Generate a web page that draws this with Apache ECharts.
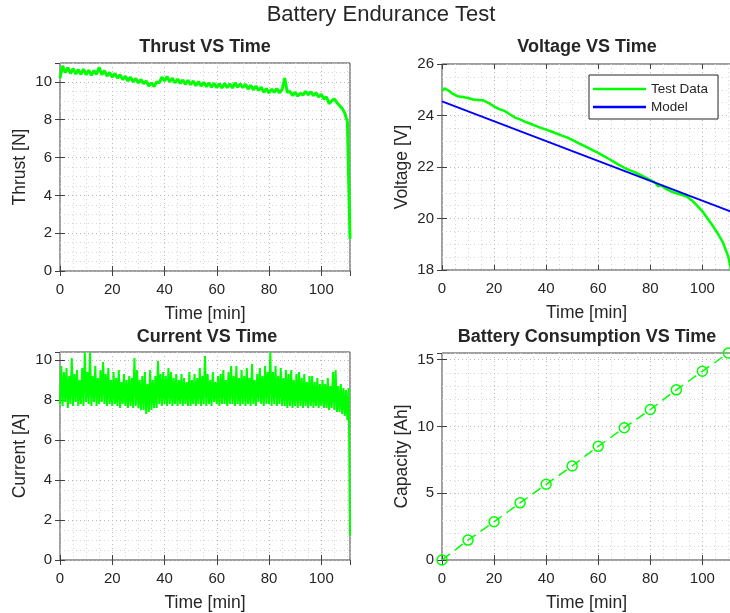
<!DOCTYPE html>
<html>
<head>
<meta charset="utf-8">
<title>Battery Endurance Test</title>
<script src="https://cdn.jsdelivr.net/npm/echarts@6/dist/echarts.min.js"></script>
<style>
  html, body { margin: 0; padding: 0; background: #fff; }
  #main { width: 730px; height: 613px; }
</style>
</head>
<body>
<div id="main"></div>
<script>
// thrust [N], one sample per minute
const thrustStep = 1;
const thrustValues = [
  10.2, 10.85, 10.5, 10.75, 10.45, 10.7, 10.42, 10.65, 10.4, 10.68,
  10.38, 10.62, 10.35, 10.6, 10.4, 10.78, 10.38, 10.6, 10.3, 10.5,
  10.25, 10.45, 10.2, 10.38, 10.12, 10.3, 10.05, 10.25, 10.0, 10.18,
  9.95, 10.12, 9.9, 10.05, 9.78, 9.95, 9.75, 10.0, 9.95, 10.25,
  10.05, 10.28, 10.0, 10.2, 9.95, 10.15, 9.92, 10.1, 9.88, 10.08,
  9.85, 10.05, 9.8, 10.02, 9.78, 9.98, 9.75, 9.95, 9.72, 9.92,
  9.7, 9.9, 9.68, 9.92, 9.7, 9.9, 9.68, 9.95, 9.72, 9.9,
  9.7, 9.88, 9.62, 9.82, 9.58, 9.78, 9.55, 9.72, 9.45, 9.65,
  9.42, 9.62, 9.45, 9.65, 9.42, 9.6, 10.2, 9.45, 9.5, 9.28,
  9.45, 9.25, 9.4, 9.3, 9.5, 9.32, 9.48, 9.28, 9.42, 9.2,
  9.35, 9.1, 9.2, 8.85, 9.0, 9.1, 8.9, 8.75, 8.6, 8.35,
  7.9, 1.7
];

// current [A], one sample every half minute
const currentStep = 0.5;
const currentValues = [
  7.8, 9.7, 7.7, 9.4, 7.9, 9.6, 7.6, 9.2, 7.8, 10.1, 7.7, 9.3, 7.9, 9.5, 7.7, 9.0, 7.8, 9.6, 7.7, 10.4,
  7.9, 9.4, 7.8, 10.4, 7.7, 9.2, 7.9, 9.7, 7.7, 9.1, 7.8, 9.5, 7.9, 9.9, 7.8, 9.3, 7.7, 9.6, 7.8, 9.0,
  7.7, 9.4, 7.8, 9.1, 7.7, 9.5, 7.6, 8.9, 7.8, 9.3, 7.7, 9.0, 7.6, 9.2, 7.7, 9.1, 7.6, 10.1, 7.7, 9.5,
  7.6, 9.0, 7.5, 9.2, 7.5, 9.4, 7.3, 8.8, 7.4, 9.5, 7.5, 9.0, 7.6, 9.2, 7.6, 9.96, 7.8, 9.3, 7.7, 9.4,
  7.8, 9.2, 7.7, 9.6, 7.8, 9.4, 7.7, 9.1, 7.8, 9.3, 7.7, 9.0, 7.8, 9.3, 7.7, 9.1, 7.8, 8.9, 7.7, 9.4,
  7.7, 9.0, 7.8, 9.3, 7.7, 9.1, 7.8, 9.6, 7.7, 9.2, 7.8, 10.2, 7.7, 9.3, 7.8, 9.0, 7.7, 9.4, 7.9, 8.9,
  7.8, 9.2, 7.7, 9.3, 7.8, 9.5, 7.8, 9.0, 7.7, 9.4, 7.8, 9.7, 7.8, 9.2, 7.7, 9.7, 7.8, 9.1, 7.7, 9.5,
  7.8, 9.2, 7.7, 9.6, 7.8, 9.1, 7.7, 9.8, 7.8, 9.0, 7.7, 9.3, 7.9, 9.6, 7.8, 9.2, 7.7, 9.7, 7.8, 9.4,
  7.8, 10.4, 7.7, 9.4, 7.8, 9.7, 7.7, 9.2, 7.8, 9.6, 7.7, 9.1, 7.7, 9.5, 7.6, 9.3, 7.7, 9.5, 7.6, 9.0,
  7.7, 9.3, 7.6, 9.4, 7.7, 9.1, 7.6, 9.3, 7.7, 8.9, 7.6, 9.2, 7.7, 9.2, 7.6, 8.9, 7.7, 9.1, 7.6, 8.8,
  7.7, 9.0, 7.6, 8.8, 7.6, 9.1, 7.5, 8.7, 7.6, 9.4, 7.5, 9.5, 7.4, 8.7, 7.4, 8.8, 7.3, 8.6, 7.2, 8.5,
  7.0, 8.6, 1.2
];

// voltage [V]
const voltTime = [0, 1, 2, 4, 6, 8, 10, 12, 14, 16, 18, 20, 22, 24, 26, 28, 30, 32, 34, 36, 38, 40,
  42, 44, 46, 48, 50, 52, 54, 56, 58, 60, 62, 64, 66, 68, 70, 72, 74, 76, 78, 80, 82, 83, 84, 86,
  88, 90, 92, 94, 96, 98, 100, 102, 104, 106, 108, 110, 111];
const voltValues = [24.95, 25.05, 25.0, 24.85, 24.75, 24.72, 24.68, 24.62, 24.6, 24.58, 24.48, 24.35,
  24.25, 24.18, 24.05, 23.92, 23.85, 23.75, 23.68, 23.6, 23.52, 23.45, 23.38, 23.3, 23.22, 23.15,
  23.05, 22.95, 22.85, 22.75, 22.65, 22.55, 22.43, 22.32, 22.2, 22.08, 21.97, 21.88, 21.8, 21.7,
  21.6, 21.5, 21.38, 21.25, 21.3, 21.15, 21.05, 20.98, 20.92, 20.85, 20.7, 20.5, 20.28, 20.0,
  19.72, 19.4, 19.05, 18.5, 18.0];
const modelTime = [0, 111];
const modelValues = [24.55, 20.27];

// consumed capacity [Ah]
const capTime = [0, 10, 20, 30, 40, 50, 60, 70, 80, 90, 100, 110];
const capValues = [0, 1.49, 2.86, 4.28, 5.67, 7.04, 8.51, 9.9, 11.27, 12.74, 14.13, 15.5];

const font = '"Liberation Sans", Arial, Helvetica, sans-serif';
const green = '#00ff00';
const blue = '#0000ff';
const textColor = '#262626';

let myChart = echarts.init(document.getElementById('main'));

const grids = [
  { left: 60, top: 63, width: 290, height: 208 },
  { left: 442, top: 64, width: 289, height: 206 },
  { left: 60, top: 352, width: 290, height: 208 },
  { left: 442, top: 353, width: 289, height: 207 },
];

// y ranges per subplot: [min, max, interval, minor split, show max label, name]
const yConf = [
  [0, 11, 2, 4, false, 'Thrust [N]'],
  [18, 26, 2, 4, true, 'Voltage [V]'],
  [0, 10.4, 2, 4, false, 'Current [A]'],
  [0, 15.5, 5, 5, false, 'Capacity [Ah]'],
];

function makeAxis(gridIndex, pos, min, max, interval, minorSplit, showMax, name) {
  const labeled = pos === 'bottom' || pos === 'left';
  const horizontal = pos === 'bottom' || pos === 'top';
  return {
    type: 'value',
    gridIndex: gridIndex,
    position: pos,
    min: min,
    max: max,
    interval: interval,
    name: labeled ? name : '',
    nameLocation: 'middle',
    nameGap: horizontal ? 34 : 31,
    nameTextStyle: { fontFamily: font, fontSize: 17.5, color: textColor },
    axisLine: { show: false },
    axisTick: { show: true, inside: true, length: 5, lineStyle: { color: '#404040' } },
    minorTick: { show: false, splitNumber: minorSplit },
    axisLabel: {
      show: labeled,
      showMaxLabel: showMax,
      margin: horizontal ? 11 : 8,
      fontFamily: font,
      fontSize: 15,
      color: textColor,
    },
    splitLine: { show: labeled, lineStyle: { color: '#b8b8b8', type: [1, 3] } },
    minorSplitLine: { show: labeled, lineStyle: { color: '#d6d6d6', type: [1, 3] } },
  };
}

let xAxes = [];
let yAxes = [];
['bottom', 'top'].forEach((pos) => {
  grids.forEach((g, i) => {
    xAxes.push(makeAxis(i, pos, 0, 111, 20, 4, false, 'Time [min]'));
  });
});
['left', 'right'].forEach((pos) => {
  yConf.forEach((c, i) => {
    yAxes.push(makeAxis(i, pos, c[0], c[1], c[2], c[3], c[4], c[5]));
  });
});

const titles = [
  { text: 'Battery Endurance Test', x: 381, y: 15, size: 22, weight: 'normal' },
  { text: 'Thrust VS Time', x: 205, y: 47, size: 18, weight: 'bold' },
  { text: 'Voltage VS Time', x: 587, y: 47, size: 18, weight: 'bold' },
  { text: 'Current VS Time', x: 207, y: 337, size: 18, weight: 'bold' },
  { text: 'Battery Consumption VS Time', x: 587, y: 337, size: 18, weight: 'bold' },
];

let option = {
  animation: false,
  backgroundColor: '#fff',
  grid: grids.map((g) => Object.assign({
    show: true,
    borderColor: '#404040',
    borderWidth: 1,
    backgroundColor: '#fff',
    containLabel: false,
    outerBoundsMode: 'none',
  }, g)),
  xAxis: xAxes,
  yAxis: yAxes,
  graphic: titles.map((t) => ({
    type: 'text',
    x: t.x,
    y: t.y,
    silent: true,
    style: {
      text: t.text,
      fill: textColor,
      fontFamily: font,
      fontSize: t.size,
      fontWeight: t.weight,
      textAlign: 'center',
      textVerticalAlign: 'middle',
      align: 'center',
      verticalAlign: 'middle',
    },
  })),
  legend: {
    data: ['Test Data', 'Model'],
    orient: 'vertical',
    left: 589,
    top: 75,
    icon: 'rect',
    itemWidth: 53,
    itemHeight: 2.5,
    itemGap: 2,
    padding: [6, 10, 4, 4],
    backgroundColor: '#fff',
    borderColor: '#262626',
    borderWidth: 1,
    borderRadius: 0,
    selectedMode: false,
    textStyle: { fontFamily: font, fontSize: 13.5, color: textColor, lineHeight: 16 },
  },
  series: [
    {
      name: 'Thrust',
      type: 'line',
      xAxisIndex: 0,
      yAxisIndex: 0,
      symbol: 'none',
      lineStyle: { color: green, width: 3 },
      itemStyle: { color: green },
      data: thrustValues.map((v, i) => [i * thrustStep, v]),
    },
    {
      name: 'Test Data',
      type: 'line',
      xAxisIndex: 1,
      yAxisIndex: 1,
      symbol: 'none',
      lineStyle: { color: green, width: 2.5 },
      itemStyle: { color: green },
      data: voltTime.map((t, i) => [t, voltValues[i]]),
    },
    {
      name: 'Model',
      type: 'line',
      xAxisIndex: 1,
      yAxisIndex: 1,
      symbol: 'none',
      lineStyle: { color: blue, width: 1.8 },
      itemStyle: { color: blue },
      data: modelTime.map((t, i) => [t, modelValues[i]]),
    },
    {
      name: 'Current',
      type: 'line',
      xAxisIndex: 2,
      yAxisIndex: 2,
      symbol: 'none',
      lineStyle: { color: green, width: 2 },
      itemStyle: { color: green },
      data: currentValues.map((v, i) => [i * currentStep, v]),
    },
    {
      name: 'Capacity',
      type: 'line',
      xAxisIndex: 3,
      yAxisIndex: 3,
      symbol: 'circle',
      symbolSize: 10,
      showAllSymbol: true,
      clip: false,
      lineStyle: { color: green, width: 1.5, type: [10, 6] },
      itemStyle: { color: 'rgba(0,0,0,0)', borderColor: green, borderWidth: 1.5 },
      data: capTime.map((t, i) => [t, capValues[i]]),
    },
  ],
};
myChart.setOption(option, true);
</script>
</body>
</html>
